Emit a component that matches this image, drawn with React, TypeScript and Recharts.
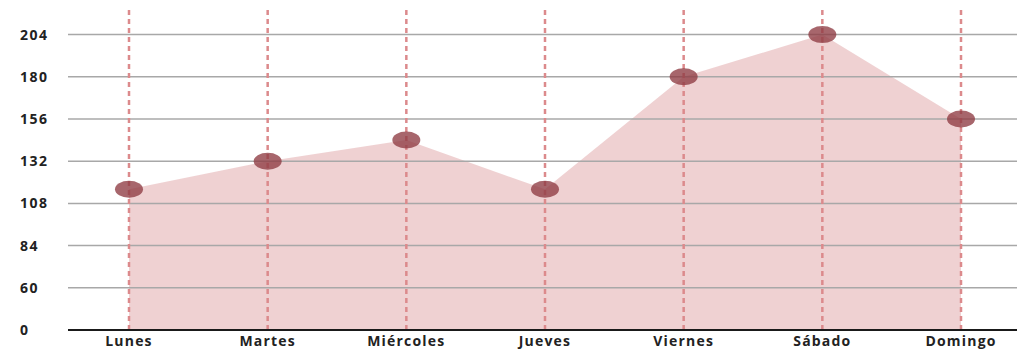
import React from 'react';
import { AreaChart, Area, XAxis, YAxis, ReferenceLine } from 'recharts';

const days = ['Lunes', 'Martes', 'Miércoles', 'Jueves', 'Viernes', 'Sábado', 'Domingo'];
const visits = [116, 132, 144, 116, 180, 204, 156];
// broken axis: the "0" tick sits one step (24) below 60
const yTicks = [36, 60, 84, 108, 132, 156, 180, 204];
const yTickLabels = ['0', '60', '84', '108', '132', '156', '180', '204'];

const data = days.map((d, i) => ({ day: d, value: visits[i] }));

const FONT = '"Open Sans", sans-serif';

const YTick = (props: any) => {
  const { y, payload, index } = props;
  const i = yTicks.indexOf(payload.value);
  return (
    <text x={20} y={y} dy={5} textAnchor="start" fontFamily={FONT} fontWeight={700} fontSize={14} fill="#222" letterSpacing={1.5}>
      {yTickLabels[i >= 0 ? i : index]}
    </text>
  );
};

const XTick = (props: any) => {
  const { x, payload } = props;
  return (
    <text x={x} y={346} textAnchor="middle" fontFamily={FONT} fontWeight={700} fontSize={14} fill="#222" letterSpacing={1.2}>
      {payload.value}
    </text>
  );
};

const Dot = (props: any) => {
  const { cx, cy } = props;
  if (cx == null || cy == null) return null;
  return <ellipse cx={cx} cy={cy} rx={14} ry={8.5} fill="#8e3b42" fillOpacity={0.78} />;
};

export default function App() {
  return (
    <div style={{ position: 'absolute', left: 0, top: 0, width: 1017, height: 351, background: '#fff' }}>
      <AreaChart width={1017} height={351} data={data} margin={{ top: 10, right: 0, bottom: 0, left: 0 }}>
        <XAxis
          dataKey="day"
          height={21}
          tickLine={false}
          axisLine={{ stroke: '#1a1a1a', strokeWidth: 2 }}
          padding={{ left: 61, right: 56 }}
          tick={<XTick />}
          interval={0}
        />
        <YAxis
          width={68}
          domain={[36, 218]}
          ticks={yTicks}
          tickLine={false}
          axisLine={false}
          tick={<YTick />}
          allowDataOverflow
        />
        {yTicks.slice(1).map((t) => (
          <ReferenceLine key={'h' + t} y={t} stroke="#a8a8a8" strokeWidth={1.5} />
        ))}
        <Area
          type="linear"
          dataKey="value"
          stroke="none"
          fill="#c9676b"
          fillOpacity={0.3}
          dot={false}
          activeDot={false}
          isAnimationActive={false}
        />
        {days.map((d) => (
          <ReferenceLine key={'v' + d} x={d} stroke="#dc8a8c" strokeWidth={2.5} strokeDasharray="5 4" />
        ))}
        <Area
          type="linear"
          dataKey="value"
          stroke="none"
          fill="none"
          dot={<Dot />}
          activeDot={false}
          isAnimationActive={false}
        />
      </AreaChart>
    </div>
  );
}
